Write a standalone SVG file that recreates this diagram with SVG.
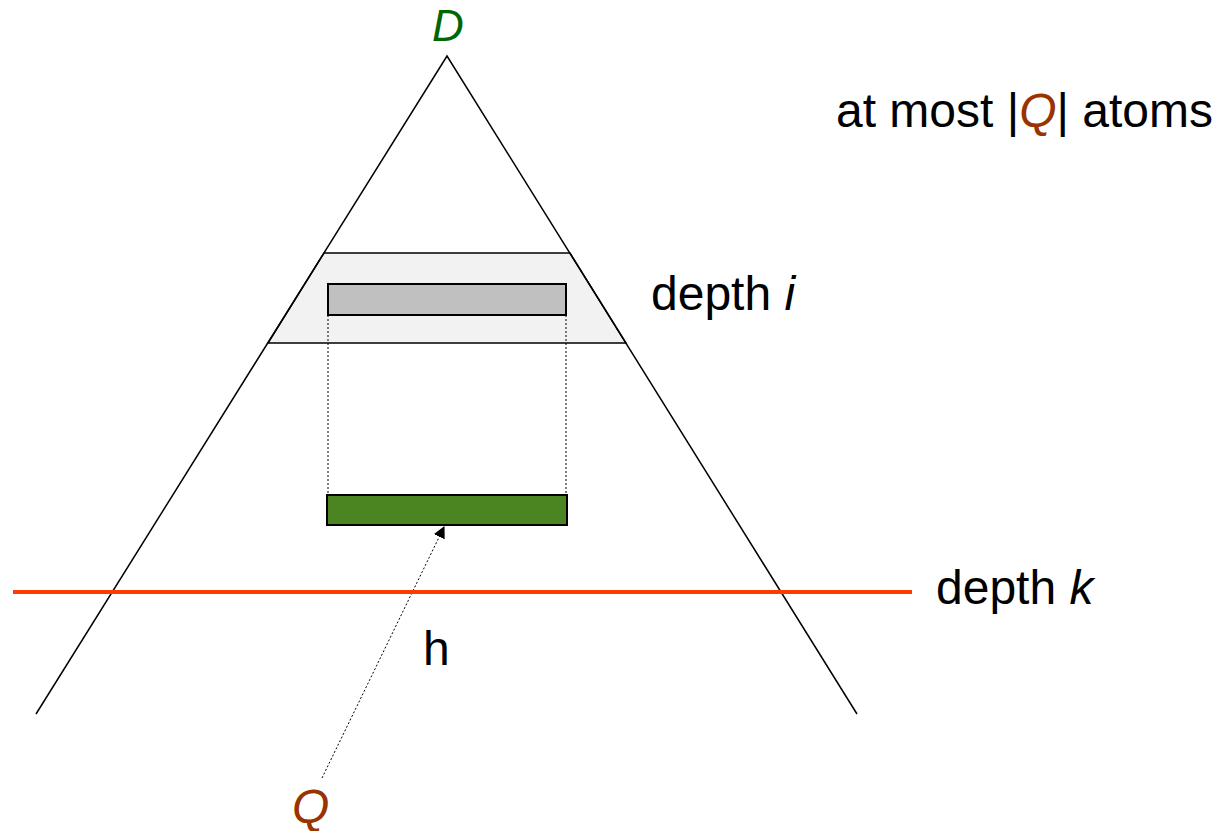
<svg xmlns="http://www.w3.org/2000/svg" width="1224" height="831" viewBox="0 0 1224 831">
<style>
.t{font-family:"Liberation Sans",Arial,sans-serif;font-size:48px;fill:#000}
.ln{stroke:#000;stroke-width:1.5;fill:none}
.dot{stroke:#000;stroke-width:1;stroke-dasharray:2,2;fill:none}
</style>
<defs>
<marker id="ah" viewBox="0 0 10 10" refX="9" refY="5" markerWidth="12" markerHeight="12" markerUnits="userSpaceOnUse" orient="auto">
<path d="M0,0 L10,5 L0,10 Z" fill="#000"/>
</marker>
</defs>
<rect width="1224" height="831" fill="#fff"/>
<g id="band">
<polygon points="324,253 570,253 626,343 268,343" fill="#f2f2f2" stroke="#000" stroke-width="1.5"/>
</g>
<g id="triangle">
<polyline class="ln" points="36,714 447,56 857,714"/>
</g>
<g id="grayrect">
<rect x="328" y="284" width="238" height="31" fill="#c0c0c0" stroke="#000" stroke-width="2"/>
</g>
<g id="greenrect">
<rect x="327" y="495" width="240" height="30" fill="#4a8522" stroke="#000" stroke-width="2"/>
</g>
<g id="connectors">
<line class="dot" x1="328" y1="315" x2="328" y2="495"/>
<line class="dot" x1="566" y1="315" x2="566" y2="495"/>
<line class="dot" x1="322" y1="778" x2="444" y2="527" marker-end="url(#ah)"/>
</g>
<g id="depthk">
<line x1="13" y1="592" x2="912" y2="592" stroke="#ff3c00" stroke-width="4"/>
</g>
<g id="labels">
<text class="t" x="448" y="41" text-anchor="middle" font-style="italic" style="fill:#006600;font-size:44px">D</text>
<text class="t" x="836" y="127">at most |<tspan font-style="italic" style="fill:#993300">Q</tspan>| atoms</text>
<text class="t" x="651" y="310">depth <tspan font-style="italic">i</tspan></text>
<text class="t" x="936" y="604">depth <tspan font-style="italic">k</tspan></text>
<text class="t" x="423" y="665">h</text>
<text class="t" x="292" y="823" font-style="italic" style="fill:#993300">Q</text>
</g>
</svg>
